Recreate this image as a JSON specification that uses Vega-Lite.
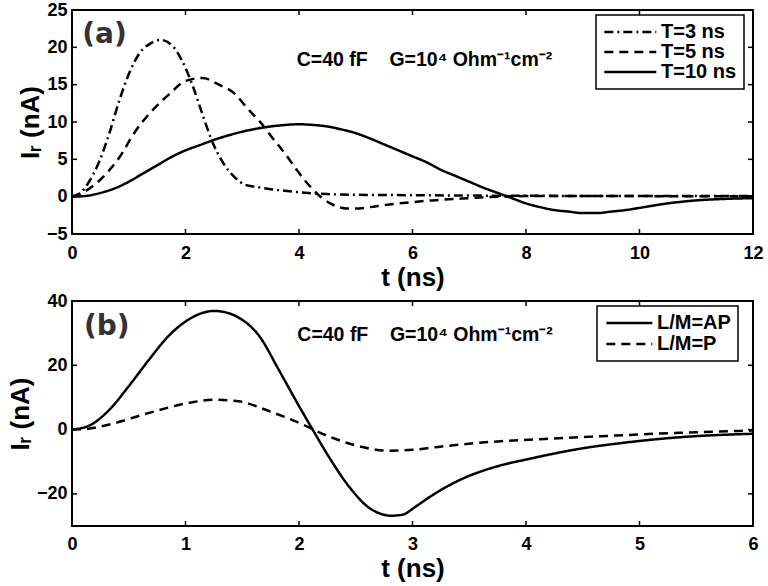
{
  "$schema": "https://vega.github.io/schema/vega-lite/v6.json",
  "background": "white",
  "padding": {"left": 6, "top": 0, "right": 0, "bottom": 0},
  "spacing": 0,
  "resolve": {"scale": {"strokeDash": "independent"}, "legend": {"strokeDash": "independent"}},
  "datasets": {
    "a": [
      {"t": 0, "I": 0, "s": "T=3 ns"}, {"t": 0.15, "I": 0.5, "s": "T=3 ns"}, {"t": 0.3, "I": 2.0, "s": "T=3 ns"}, {"t": 0.48, "I": 4.7, "s": "T=3 ns"}, {"t": 0.65, "I": 8.3, "s": "T=3 ns"}, {"t": 0.83, "I": 12.8, "s": "T=3 ns"}, {"t": 1.0, "I": 16.4, "s": "T=3 ns"}, {"t": 1.18, "I": 19.1, "s": "T=3 ns"}, {"t": 1.4, "I": 20.6, "s": "T=3 ns"}, {"t": 1.56, "I": 21.0, "s": "T=3 ns"}, {"t": 1.77, "I": 20.2, "s": "T=3 ns"}, {"t": 1.94, "I": 18.2, "s": "T=3 ns"}, {"t": 2.12, "I": 15.0, "s": "T=3 ns"}, {"t": 2.3, "I": 11.0, "s": "T=3 ns"}, {"t": 2.47, "I": 7.4, "s": "T=3 ns"}, {"t": 2.65, "I": 4.7, "s": "T=3 ns"}, {"t": 2.88, "I": 2.5, "s": "T=3 ns"}, {"t": 3.05, "I": 1.6, "s": "T=3 ns"}, {"t": 3.25, "I": 1.3, "s": "T=3 ns"}, {"t": 3.5, "I": 1.0, "s": "T=3 ns"}, {"t": 3.75, "I": 0.8, "s": "T=3 ns"}, {"t": 4.0, "I": 0.6, "s": "T=3 ns"}, {"t": 4.25, "I": 0.45, "s": "T=3 ns"}, {"t": 4.5, "I": 0.35, "s": "T=3 ns"}, {"t": 5, "I": 0.25, "s": "T=3 ns"}, {"t": 6, "I": 0.2, "s": "T=3 ns"}, {"t": 7, "I": 0.15, "s": "T=3 ns"}, {"t": 8, "I": 0.12, "s": "T=3 ns"}, {"t": 9, "I": 0.1, "s": "T=3 ns"}, {"t": 10, "I": 0.1, "s": "T=3 ns"}, {"t": 11, "I": 0.08, "s": "T=3 ns"}, {"t": 12, "I": 0.08, "s": "T=3 ns"},
      {"t": 0, "I": 0, "s": "T=5 ns"}, {"t": 0.25, "I": 0.8, "s": "T=5 ns"}, {"t": 0.53, "I": 2.5, "s": "T=5 ns"}, {"t": 0.83, "I": 5.2, "s": "T=5 ns"}, {"t": 1.12, "I": 8.8, "s": "T=5 ns"}, {"t": 1.41, "I": 11.5, "s": "T=5 ns"}, {"t": 1.71, "I": 13.7, "s": "T=5 ns"}, {"t": 2.0, "I": 15.5, "s": "T=5 ns"}, {"t": 2.3, "I": 15.9, "s": "T=5 ns"}, {"t": 2.59, "I": 15.0, "s": "T=5 ns"}, {"t": 2.88, "I": 13.7, "s": "T=5 ns"}, {"t": 3.06, "I": 12.1, "s": "T=5 ns"}, {"t": 3.18, "I": 11.1, "s": "T=5 ns"}, {"t": 3.35, "I": 9.7, "s": "T=5 ns"}, {"t": 3.53, "I": 7.9, "s": "T=5 ns"}, {"t": 3.75, "I": 5.8, "s": "T=5 ns"}, {"t": 3.94, "I": 3.8, "s": "T=5 ns"}, {"t": 4.1, "I": 2.2, "s": "T=5 ns"}, {"t": 4.23, "I": 1.1, "s": "T=5 ns"}, {"t": 4.41, "I": -0.2, "s": "T=5 ns"}, {"t": 4.55, "I": -0.9, "s": "T=5 ns"}, {"t": 4.7, "I": -1.4, "s": "T=5 ns"}, {"t": 4.85, "I": -1.6, "s": "T=5 ns"}, {"t": 5.0, "I": -1.6, "s": "T=5 ns"}, {"t": 5.25, "I": -1.4, "s": "T=5 ns"}, {"t": 5.53, "I": -1.1, "s": "T=5 ns"}, {"t": 5.9, "I": -0.8, "s": "T=5 ns"}, {"t": 6.35, "I": -0.5, "s": "T=5 ns"}, {"t": 7, "I": -0.2, "s": "T=5 ns"}, {"t": 7.5, "I": 0.0, "s": "T=5 ns"}, {"t": 8, "I": 0.08, "s": "T=5 ns"}, {"t": 9, "I": 0.1, "s": "T=5 ns"}, {"t": 10, "I": 0.08, "s": "T=5 ns"}, {"t": 11, "I": 0.05, "s": "T=5 ns"}, {"t": 12, "I": 0.05, "s": "T=5 ns"},
      {"t": 0, "I": 0, "s": "T=10 ns"}, {"t": 0.25, "I": 0.1, "s": "T=10 ns"}, {"t": 0.5, "I": 0.5, "s": "T=10 ns"}, {"t": 0.75, "I": 1.1, "s": "T=10 ns"}, {"t": 1.0, "I": 2.0, "s": "T=10 ns"}, {"t": 1.25, "I": 3.1, "s": "T=10 ns"}, {"t": 1.5, "I": 4.2, "s": "T=10 ns"}, {"t": 1.75, "I": 5.3, "s": "T=10 ns"}, {"t": 2.0, "I": 6.2, "s": "T=10 ns"}, {"t": 2.25, "I": 6.9, "s": "T=10 ns"}, {"t": 2.5, "I": 7.6, "s": "T=10 ns"}, {"t": 2.75, "I": 8.2, "s": "T=10 ns"}, {"t": 3.0, "I": 8.7, "s": "T=10 ns"}, {"t": 3.25, "I": 9.1, "s": "T=10 ns"}, {"t": 3.5, "I": 9.4, "s": "T=10 ns"}, {"t": 3.75, "I": 9.6, "s": "T=10 ns"}, {"t": 4.0, "I": 9.7, "s": "T=10 ns"}, {"t": 4.25, "I": 9.6, "s": "T=10 ns"}, {"t": 4.5, "I": 9.4, "s": "T=10 ns"}, {"t": 4.75, "I": 9.0, "s": "T=10 ns"}, {"t": 5.0, "I": 8.5, "s": "T=10 ns"}, {"t": 5.25, "I": 7.8, "s": "T=10 ns"}, {"t": 5.5, "I": 7.0, "s": "T=10 ns"}, {"t": 5.75, "I": 6.2, "s": "T=10 ns"}, {"t": 6.0, "I": 5.4, "s": "T=10 ns"}, {"t": 6.25, "I": 4.6, "s": "T=10 ns"}, {"t": 6.5, "I": 3.6, "s": "T=10 ns"}, {"t": 6.75, "I": 2.8, "s": "T=10 ns"}, {"t": 7.0, "I": 2.0, "s": "T=10 ns"}, {"t": 7.25, "I": 1.2, "s": "T=10 ns"}, {"t": 7.5, "I": 0.5, "s": "T=10 ns"}, {"t": 7.75, "I": -0.2, "s": "T=10 ns"}, {"t": 8.0, "I": -0.9, "s": "T=10 ns"}, {"t": 8.25, "I": -1.4, "s": "T=10 ns"}, {"t": 8.5, "I": -1.8, "s": "T=10 ns"}, {"t": 8.75, "I": -2.0, "s": "T=10 ns"}, {"t": 9.0, "I": -2.2, "s": "T=10 ns"}, {"t": 9.25, "I": -2.2, "s": "T=10 ns"}, {"t": 9.5, "I": -2.0, "s": "T=10 ns"}, {"t": 9.75, "I": -1.8, "s": "T=10 ns"}, {"t": 10.0, "I": -1.5, "s": "T=10 ns"}, {"t": 10.5, "I": -0.9, "s": "T=10 ns"}, {"t": 11.0, "I": -0.5, "s": "T=10 ns"}, {"t": 11.5, "I": -0.3, "s": "T=10 ns"}, {"t": 12.0, "I": -0.2, "s": "T=10 ns"}
    ],
    "b": [
      {"t": 0, "I": 0, "s": "L/M=AP"}, {"t": 0.15, "I": 1.2, "s": "L/M=AP"}, {"t": 0.33, "I": 6.2, "s": "L/M=AP"}, {"t": 0.5, "I": 13.5, "s": "L/M=AP"}, {"t": 0.68, "I": 21.8, "s": "L/M=AP"}, {"t": 0.85, "I": 29.1, "s": "L/M=AP"}, {"t": 1.03, "I": 34.3, "s": "L/M=AP"}, {"t": 1.15, "I": 36.3, "s": "L/M=AP"}, {"t": 1.25, "I": 36.9, "s": "L/M=AP"}, {"t": 1.35, "I": 36.5, "s": "L/M=AP"}, {"t": 1.47, "I": 34.8, "s": "L/M=AP"}, {"t": 1.65, "I": 29.1, "s": "L/M=AP"}, {"t": 1.82, "I": 18.7, "s": "L/M=AP"}, {"t": 2.0, "I": 7.3, "s": "L/M=AP"}, {"t": 2.12, "I": 0, "s": "L/M=AP"}, {"t": 2.26, "I": -8.3, "s": "L/M=AP"}, {"t": 2.44, "I": -17.7, "s": "L/M=AP"}, {"t": 2.62, "I": -24.4, "s": "L/M=AP"}, {"t": 2.72, "I": -26.2, "s": "L/M=AP"}, {"t": 2.81, "I": -26.8, "s": "L/M=AP"}, {"t": 2.91, "I": -26.5, "s": "L/M=AP"}, {"t": 3.03, "I": -23.9, "s": "L/M=AP"}, {"t": 3.15, "I": -21.0, "s": "L/M=AP"}, {"t": 3.3, "I": -17.8, "s": "L/M=AP"}, {"t": 3.44, "I": -15.3, "s": "L/M=AP"}, {"t": 3.73, "I": -11.6, "s": "L/M=AP"}, {"t": 4.03, "I": -9.1, "s": "L/M=AP"}, {"t": 4.47, "I": -6.0, "s": "L/M=AP"}, {"t": 4.91, "I": -3.9, "s": "L/M=AP"}, {"t": 5.35, "I": -2.4, "s": "L/M=AP"}, {"t": 6.0, "I": -1.3, "s": "L/M=AP"},
      {"t": 0, "I": 0, "s": "L/M=P"}, {"t": 0.1, "I": 0.1, "s": "L/M=P"}, {"t": 0.33, "I": 1.6, "s": "L/M=P"}, {"t": 0.68, "I": 5.2, "s": "L/M=P"}, {"t": 1.03, "I": 8.3, "s": "L/M=P"}, {"t": 1.25, "I": 9.3, "s": "L/M=P"}, {"t": 1.47, "I": 8.8, "s": "L/M=P"}, {"t": 1.74, "I": 5.7, "s": "L/M=P"}, {"t": 2.0, "I": 2.1, "s": "L/M=P"}, {"t": 2.26, "I": -2.1, "s": "L/M=P"}, {"t": 2.53, "I": -5.2, "s": "L/M=P"}, {"t": 2.79, "I": -6.6, "s": "L/M=P"}, {"t": 3.0, "I": -6.3, "s": "L/M=P"}, {"t": 3.2, "I": -5.5, "s": "L/M=P"}, {"t": 3.59, "I": -4.1, "s": "L/M=P"}, {"t": 4.17, "I": -2.9, "s": "L/M=P"}, {"t": 4.76, "I": -1.9, "s": "L/M=P"}, {"t": 5.35, "I": -1.0, "s": "L/M=P"}, {"t": 6.0, "I": -0.3, "s": "L/M=P"}
    ],
    "xa": [{"v": 2}, {"v": 4}, {"v": 6}, {"v": 8}, {"v": 10}],
    "ya": [{"v": 0}, {"v": 5}, {"v": 10}, {"v": 15}, {"v": 20}],
    "xb": [{"v": 1}, {"v": 2}, {"v": 3}, {"v": 4}, {"v": 5}],
    "yb": [{"v": -20}, {"v": 0}, {"v": 20}]
  },
  "config": {
    "view": {"stroke": "black", "strokeWidth": 2},
    "font": "Liberation Sans",
    "axis": {
      "labelFont": "Liberation Sans", "labelFontSize": 18, "labelFontWeight": "bold", "labelColor": "black",
      "titleFont": "Liberation Sans", "titleFontSize": 26, "titleFontWeight": "bold", "titleColor": "black",
      "labelFlush": false, "labelOverlap": false, "domain": false, "grid": false, "ticks": false
    },
    "legend": {
      "labelFont": "Liberation Sans", "labelFontSize": 20, "labelFontWeight": "bold", "labelColor": "black",
      "strokeColor": "black", "strokeWidth": 1.5, "fillColor": "white", "padding": 7,
      "symbolStrokeColor": "black", "symbolStrokeWidth": 2.5, "symbolType": "M-1,0H5",
      "rowPadding": 0, "cornerRadius": 0
    }
  },
  "vconcat": [
    {
      "width": 681,
      "height": 224,
      "layer": [
        {
          "data": {"name": "a"},
          "mark": {"type": "line", "color": "black", "strokeWidth": 2.5, "interpolate": "monotone"},
          "encoding": {
            "x": {"field": "t", "type": "quantitative", "scale": {"domain": [0, 12], "nice": false}, "axis": {"orient": "bottom", "values": [0, 2, 4, 6, 8, 10, 12], "title": "t (ns)", "labelPadding": 10, "titlePadding": 2}},
            "y": {"field": "I", "type": "quantitative", "scale": {"domain": [-5, 25], "nice": false}, "axis": {"orient": "left", "values": [-5, 0, 5, 10, 15, 20, 25], "title": "Iᵣ (nA)", "labelPadding": 5, "titlePadding": 3}},
            "strokeDash": {"field": "s", "type": "nominal", "scale": {"domain": ["T=3 ns", "T=5 ns", "T=10 ns"], "range": [[9, 4, 2, 4], [9, 6], [1, 0]]}, "legend": {"title": null, "orient": "none", "legendX": 524, "legendY": 5, "symbolSize": 300, "labelOffset": 38}}
          }
        },
        {
          "data": {"name": "xa"},
          "mark": {"type": "tick", "orient": "vertical", "color": "black", "opacity": 1, "thickness": 1.5, "size": 10, "clip": true},
          "encoding": {"x": {"field": "v", "type": "quantitative", "axis": null}, "y": {"datum": -5, "type": "quantitative", "axis": null}}
        },
        {
          "data": {"name": "xa"},
          "mark": {"type": "tick", "orient": "vertical", "color": "black", "opacity": 1, "thickness": 1.5, "size": 10, "clip": true},
          "encoding": {"x": {"field": "v", "type": "quantitative", "axis": null}, "y": {"datum": 25, "type": "quantitative", "axis": null}}
        },
        {
          "data": {"name": "ya"},
          "mark": {"type": "tick", "orient": "horizontal", "color": "black", "opacity": 1, "thickness": 1.5, "size": 10, "clip": true},
          "encoding": {"y": {"field": "v", "type": "quantitative", "axis": null}, "x": {"datum": 0, "type": "quantitative", "axis": null}}
        },
        {
          "data": {"name": "ya"},
          "mark": {"type": "tick", "orient": "horizontal", "color": "black", "opacity": 1, "thickness": 1.5, "size": 10, "clip": true},
          "encoding": {"y": {"field": "v", "type": "quantitative", "axis": null}, "x": {"datum": 12, "type": "quantitative", "axis": null}}
        },
        {
          "data": {"values": [{}]},
          "mark": {"type": "text", "text": "C=40 fF\u00a0\u00a0\u00a0\u00a0G=10⁴ Ohm⁻¹cm⁻²", "align": "left", "baseline": "alphabetic", "font": "Liberation Sans", "fontSize": 19.5, "fontWeight": "bold", "color": "black"},
          "encoding": {
            "x": {"datum": 3.96, "type": "quantitative", "axis": null},
            "y": {"datum": 17.5, "type": "quantitative", "axis": null}
          }
        },
        {
          "data": {"values": [{}]},
          "mark": {"type": "text", "text": "(a)", "align": "left", "baseline": "middle", "font": "DejaVu Sans", "fontSize": 28, "fontWeight": "bold", "color": "#333333"},
          "encoding": {
            "x": {"datum": 0.18, "type": "quantitative", "axis": null},
            "y": {"datum": 21.6, "type": "quantitative", "axis": null}
          }
        }
      ],
      "resolve": {"axis": {"x": "independent", "y": "independent"}}
    },
    {
      "width": 681,
      "height": 225,
      "layer": [
        {
          "data": {"name": "b"},
          "mark": {"type": "line", "color": "black", "strokeWidth": 2.5, "interpolate": "monotone"},
          "encoding": {
            "x": {"field": "t", "type": "quantitative", "scale": {"domain": [0, 6], "nice": false}, "axis": {"orient": "bottom", "values": [0, 1, 2, 3, 4, 5, 6], "title": "t (ns)", "labelPadding": 9, "titlePadding": 2}},
            "y": {"field": "I", "type": "quantitative", "scale": {"domain": [-30, 40], "nice": false}, "axis": {"orient": "left", "values": [-20, 0, 20, 40], "title": "Iᵣ (nA)", "labelPadding": 5, "titlePadding": 3}},
            "strokeDash": {"field": "s", "type": "nominal", "scale": {"domain": ["L/M=AP", "L/M=P"], "range": [[1, 0], [9, 6]]}, "legend": {"title": null, "orient": "none", "legendX": 525, "legendY": 5, "symbolSize": 235, "labelOffset": 33, "rowPadding": 1}}
          }
        },
        {
          "data": {"name": "xb"},
          "mark": {"type": "tick", "orient": "vertical", "color": "black", "opacity": 1, "thickness": 1.5, "size": 10, "clip": true},
          "encoding": {"x": {"field": "v", "type": "quantitative", "axis": null}, "y": {"datum": -30, "type": "quantitative", "axis": null}}
        },
        {
          "data": {"name": "xb"},
          "mark": {"type": "tick", "orient": "vertical", "color": "black", "opacity": 1, "thickness": 1.5, "size": 10, "clip": true},
          "encoding": {"x": {"field": "v", "type": "quantitative", "axis": null}, "y": {"datum": 40, "type": "quantitative", "axis": null}}
        },
        {
          "data": {"name": "yb"},
          "mark": {"type": "tick", "orient": "horizontal", "color": "black", "opacity": 1, "thickness": 1.5, "size": 10, "clip": true},
          "encoding": {"y": {"field": "v", "type": "quantitative", "axis": null}, "x": {"datum": 0, "type": "quantitative", "axis": null}}
        },
        {
          "data": {"name": "yb"},
          "mark": {"type": "tick", "orient": "horizontal", "color": "black", "opacity": 1, "thickness": 1.5, "size": 10, "clip": true},
          "encoding": {"y": {"field": "v", "type": "quantitative", "axis": null}, "x": {"datum": 6, "type": "quantitative", "axis": null}}
        },
        {
          "data": {"values": [{}]},
          "mark": {"type": "text", "text": "C=40 fF\u00a0\u00a0\u00a0\u00a0G=10⁴ Ohm⁻¹cm⁻²", "align": "left", "baseline": "alphabetic", "font": "Liberation Sans", "fontSize": 19.5, "fontWeight": "bold", "color": "black"},
          "encoding": {
            "x": {"datum": 1.985, "type": "quantitative", "axis": null},
            "y": {"datum": 27.5, "type": "quantitative", "axis": null}
          }
        },
        {
          "data": {"values": [{}]},
          "mark": {"type": "text", "text": "(b)", "align": "left", "baseline": "middle", "font": "DejaVu Sans", "fontSize": 28, "fontWeight": "bold", "color": "#333333"},
          "encoding": {
            "x": {"datum": 0.106, "type": "quantitative", "axis": null},
            "y": {"datum": 31.8, "type": "quantitative", "axis": null}
          }
        }
      ],
      "resolve": {"axis": {"x": "independent", "y": "independent"}}
    }
  ]
}
